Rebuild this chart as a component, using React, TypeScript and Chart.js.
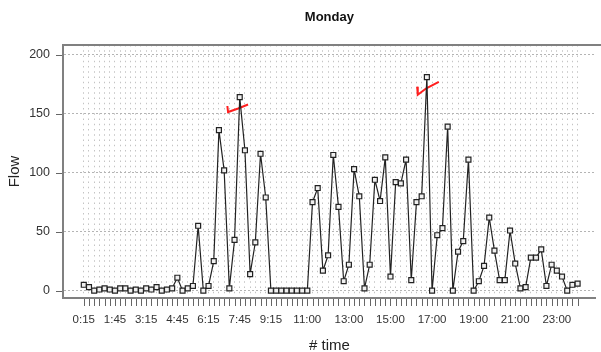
import React, { useEffect, useRef } from "react";
import { Chart, registerables } from "chart.js";

Chart.register(...registerables);

// 15-minute intervals from 0:15 to 24:00
const times: string[] = Array.from({ length: 96 }, (_, i) => {
  const m = (i + 1) * 15;
  return `${Math.floor(m / 60)}:${String(m % 60).padStart(2, "0")}`;
});

const flow: number[] = [
  5, 3, 0, 1, 2, 1, 0, 2, 2, 0, 1, 0, 2, 1, 3, 0, 1, 2, 11, 0, 2, 4, 55, 0,
  4, 25, 136, 102, 2, 43, 164, 119, 14, 41, 116, 79, 0, 0, 0, 0, 0, 0, 0, 0,
  75, 87, 17, 30, 115, 71, 8, 22, 103, 80, 2, 22, 94, 76, 113, 12, 92, 91, 111, 9,
  75, 80, 181, 0, 47, 53, 139, 0, 33, 42, 111, 0, 8, 21, 62, 34, 9, 9, 51, 23,
  2, 3, 28, 28, 35, 4, 22, 17, 12, 0, 5, 6,
];

const tickLabels: string[] = [
  "0:15", "1:45", "3:15", "4:45", "6:15", "7:45", "9:15",
  "11:00", "13:00", "15:00", "17:00", "19:00", "21:00", "23:00",
];

const yTicks: number[] = [0, 50, 100, 150, 200];

// hand-drawn red marks (in data coordinates: x = interval index, y = flow)
const markAx: number[] = [27.62, 27.75, 29.7, 31.6];
const markAy: number[] = [156.5, 151.4, 154.4, 157.8];
const markBx: number[] = [64.13, 64.25, 65.9, 68.3];
const markBy: number[] = [172.9, 166.1, 171.5, 176.9];

const FONT = "'Liberation Sans', Arial, Helvetica, sans-serif";

export default function App() {
  const ref = useRef<HTMLCanvasElement | null>(null);

  useEffect(() => {
    if (!ref.current) return;
    Chart.defaults.font.family = FONT;

    const frame = {
      id: "frame",
      afterDraw(chart: any) {
        const { ctx, chartArea } = chart;
        const xs = chart.scales.x;
        const ys = chart.scales.y;
        ctx.save();
        // top frame line
        ctx.strokeStyle = "#808080";
        ctx.lineWidth = 2;
        ctx.beginPath();
        ctx.moveTo(chartArea.left - 1, chartArea.top);
        ctx.lineTo(chart.width, chartArea.top);
        ctx.stroke();
        // tick marks
        ctx.strokeStyle = "#666";
        ctx.lineWidth = 1;
        ctx.setLineDash([]);
        ctx.beginPath();
        times.forEach((_, i) => {
          const px = Math.round(xs.getPixelForValue(i)) + 0.5;
          ctx.moveTo(px, chartArea.bottom + 1);
          ctx.lineTo(px, chartArea.bottom + 8);
        });
        yTicks.forEach((v) => {
          const py = Math.round(ys.getPixelForValue(v)) + 0.5;
          ctx.moveTo(chartArea.left - 7, py);
          ctx.lineTo(chartArea.left - 1, py);
        });
        ctx.stroke();
        ctx.restore();
      },
    };

    const chart = new Chart(ref.current, {
      type: "line",
      data: {
        datasets: [
          {
            data: flow.map((v, i) => ({ x: i, y: v })),
            borderColor: "#222",
            borderWidth: 1.2,
            pointStyle: "rect",
            pointRadius: 3.5,
            pointBackgroundColor: "#f0f0f0",
            pointBorderColor: "#222",
            pointBorderWidth: 1.2,
            tension: 0,
          },
          {
            data: markAx.map((x, i) => ({ x, y: markAy[i] })),
            borderColor: "#ff1f1f",
            borderWidth: 2,
            pointRadius: 0,
            tension: 0,
          },
          {
            data: markBx.map((x, i) => ({ x, y: markBy[i] })),
            borderColor: "#ff1f1f",
            borderWidth: 2,
            pointRadius: 0,
            tension: 0,
          },
        ],
      },
      options: {
        animation: false,
        responsive: false,
        devicePixelRatio: 1,
        layout: { padding: 0 },
        plugins: {
          legend: { display: false },
          tooltip: { enabled: false },
          title: {
            display: true,
            text: "Monday",
            fullSize: false,
            color: "#111",
            font: { size: 13, weight: "bold", family: FONT },
            padding: { top: 10, bottom: 19.4 },
          },
        },
        scales: {
          x: {
            type: "linear",
            min: -4,
            max: 98.5,
            afterFit(scale: any) {
              scale.height = 54;
            },
            afterBuildTicks(scale: any) {
              scale.ticks = times.map((_, i) => ({ value: i }));
            },
            ticks: {
              autoSkip: false,
              maxRotation: 0,
              minRotation: 0,
              padding: 7,
              color: "#333",
              font: { size: 11.5, family: FONT },
              callback: (value: any) => {
                const t = times[value as number];
                return t && tickLabels.includes(t) ? t : "";
              },
            },
            grid: {
              color: "#c4c4c4",
              lineWidth: 1,
              drawTicks: true,
              tickLength: 8,
              tickColor: "rgba(0,0,0,0)",
            },
            border: { display: true, color: "#808080", width: 2, dash: [1.5, 3.75] },
            title: {
              display: true,
              text: "# time",
              color: "#222",
              font: { size: 15, family: FONT },
              padding: { top: 0, bottom: -3 },
            },
          },
          y: {
            type: "linear",
            min: -6.2,
            max: 208.2,
            afterFit(scale: any) {
              scale.width = 63;
            },
            afterBuildTicks(scale: any) {
              scale.ticks = yTicks.map((v) => ({ value: v }));
            },
            ticks: {
              padding: 7,
              color: "#333",
              font: { size: 12.5, family: FONT },
            },
            grid: {
              color: "#b4b4b4",
              lineWidth: 1,
              drawTicks: true,
              tickLength: 6,
              tickColor: "rgba(0,0,0,0)",
            },
            border: { display: true, color: "#808080", width: 2, dash: [2, 2] },
            title: {
              display: true,
              text: "Flow",
              color: "#222",
              font: { size: 15, family: FONT },
              padding: { top: 6, bottom: 0 },
            },
          },
        },
      },
      plugins: [frame],
    } as any);

    return () => chart.destroy();
  }, []);

  return (
    <div style={{ position: "fixed", left: 0, top: 0, width: 601, height: 352, background: "#fff" }}>
      <canvas ref={ref} width={601} height={352} style={{ width: 601, height: 352 }} />
    </div>
  );
}
